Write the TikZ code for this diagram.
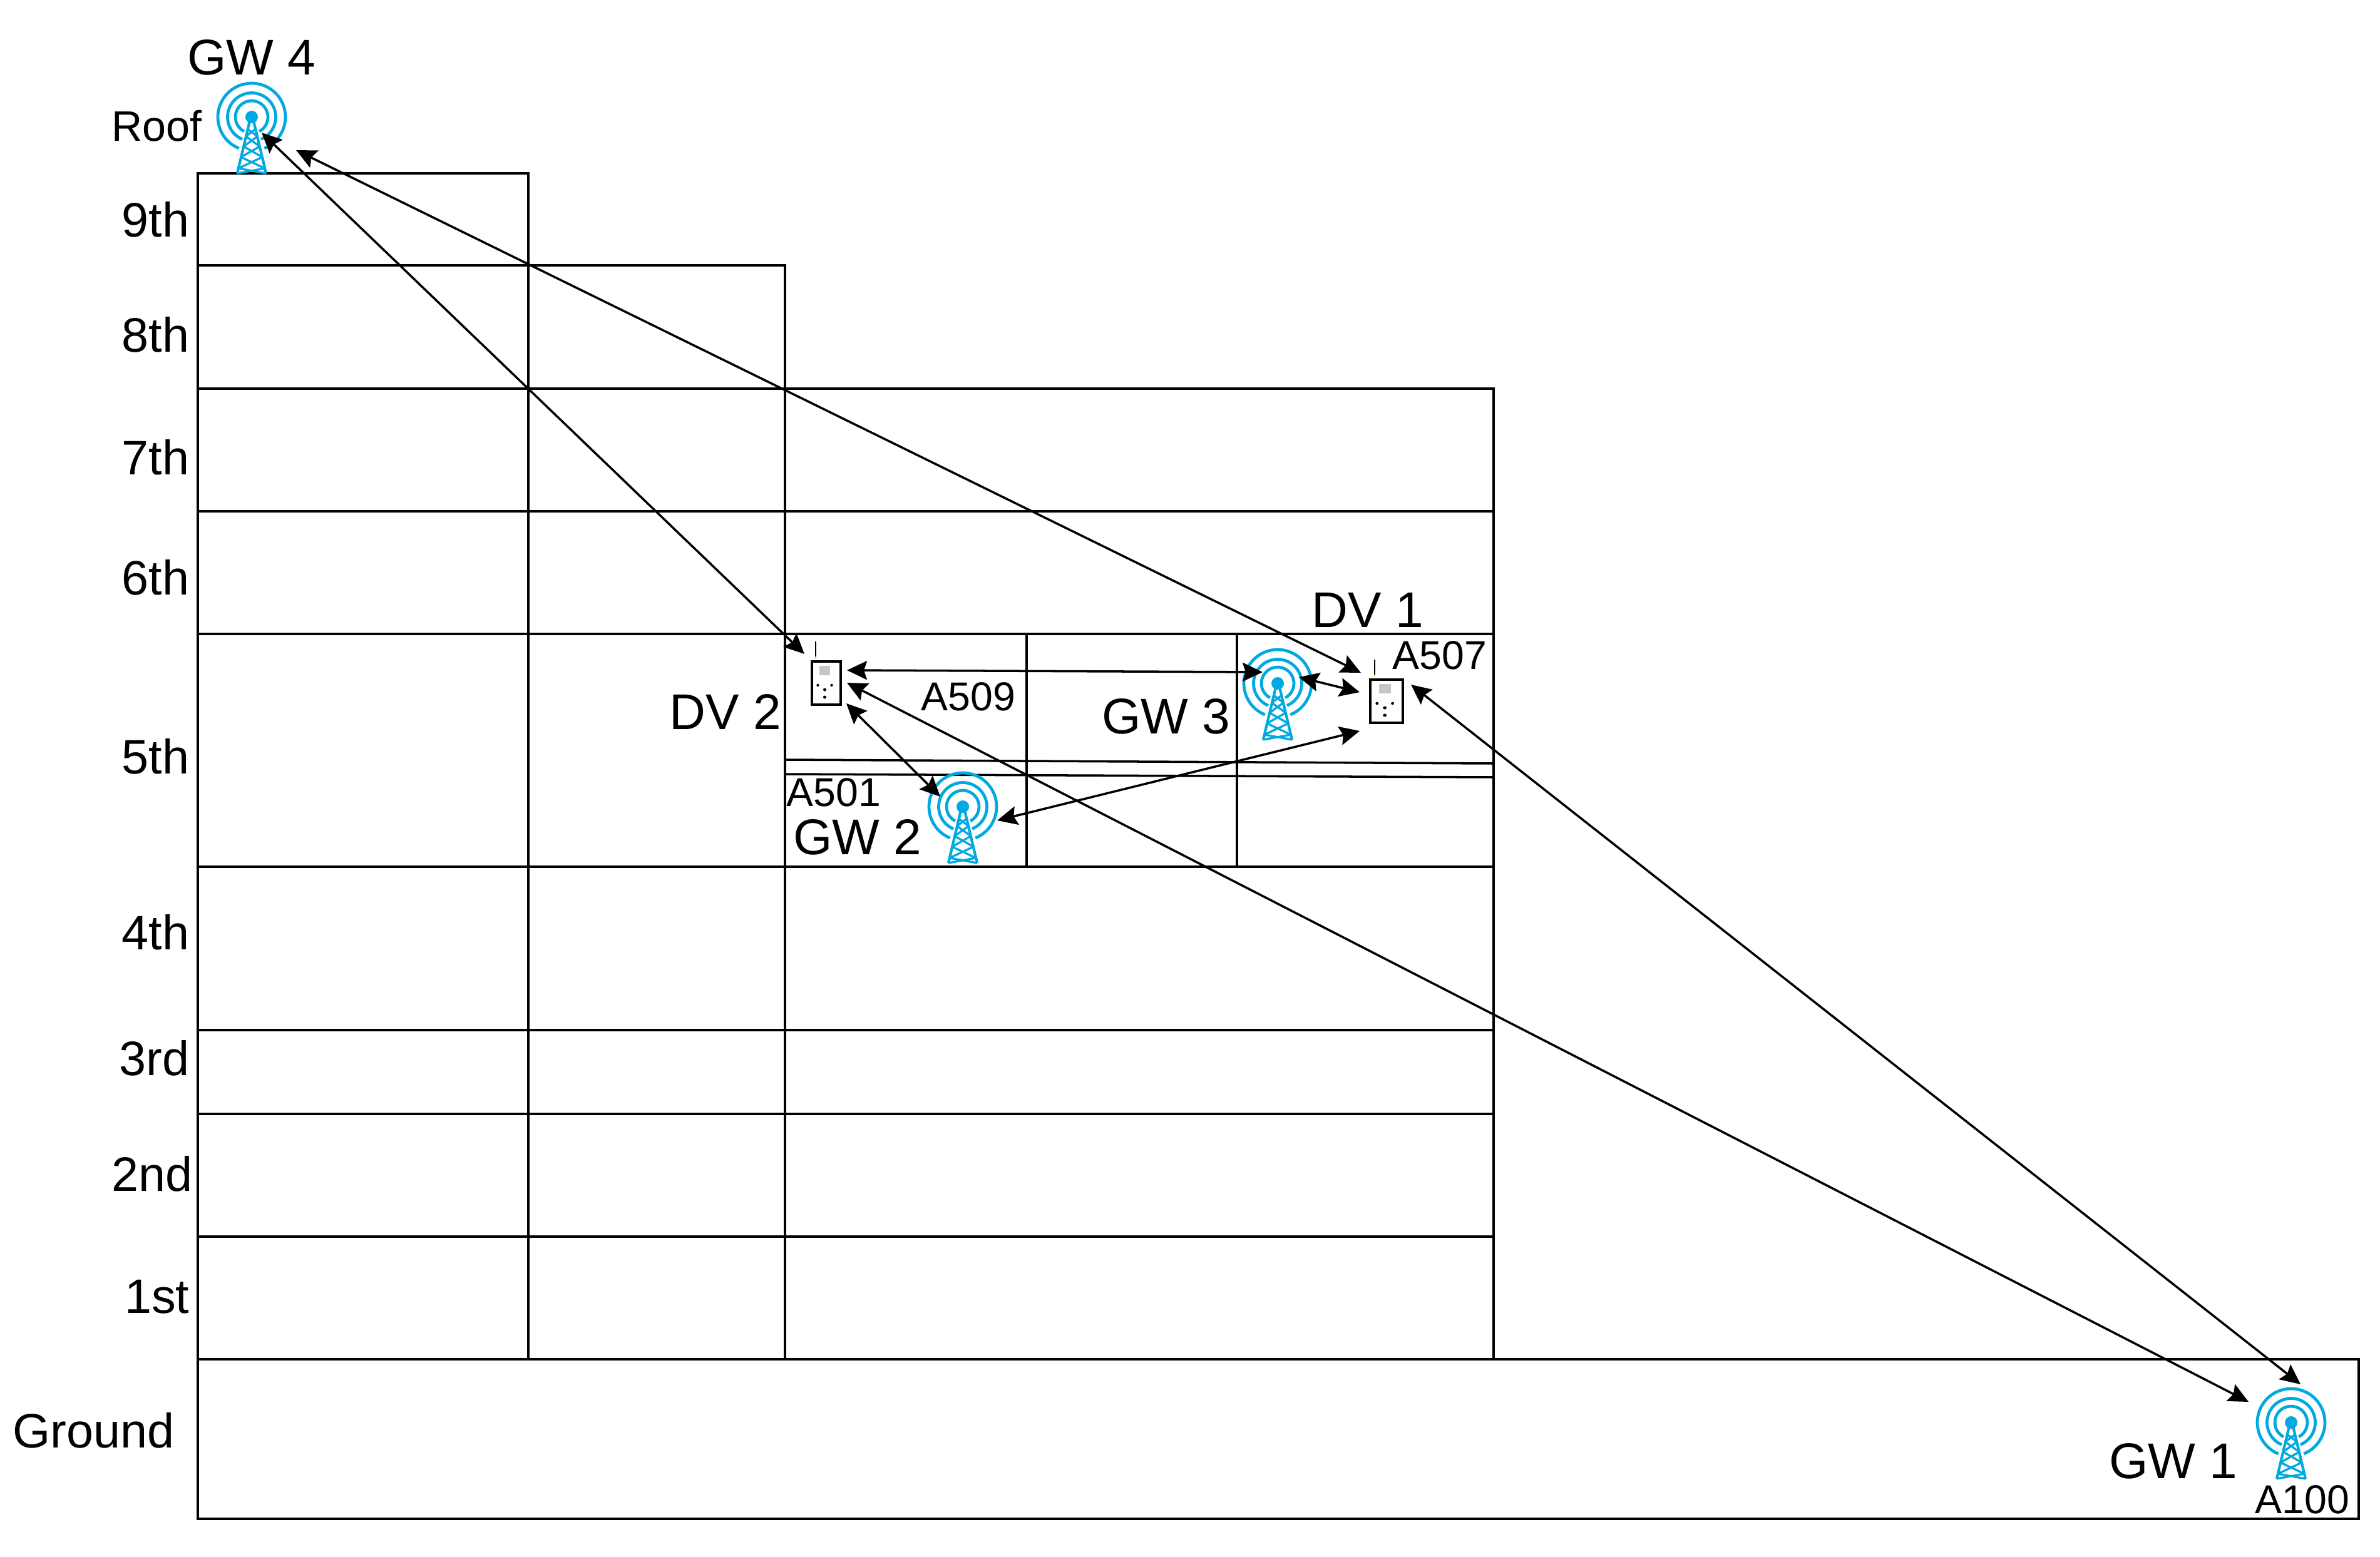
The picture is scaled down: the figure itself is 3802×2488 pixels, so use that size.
\documentclass[tikz,border=0pt]{standalone}
\usepackage{fontspec}
\setmainfont{Liberation Sans}
\usepackage{tikz}
\usetikzlibrary{arrows.meta}
\definecolor{gwblue}{HTML}{00A9E0}
\tikzset{
  floorlabel/.style={anchor=east, inner sep=0pt, font=\fontsize{22}{24}\selectfont},
  biglabel/.style={inner sep=0pt, font=\fontsize{22.8}{25}\selectfont},
  roomlabel/.style={inner sep=0pt, font=\fontsize{18.3}{20}\selectfont},
  wall/.style={line width=1pt},
  link/.style={line width=1pt, <->, >={Stealth[length=0.32cm, width=0.3cm, inset=0.05cm]}},
  pics/gwtower/.style={code={
    \draw[gwblue, line width=1.35pt] (112:54) arc[start angle=112, end angle=428, radius=54];
    \draw[gwblue, line width=1.35pt] (113:38.5) arc[start angle=113, end angle=427, radius=38.5];
    \draw[gwblue, line width=1.35pt] (118:26) arc[start angle=118, end angle=422, radius=26];
    \fill[gwblue] (0,0) circle[radius=10];
    \draw[gwblue, line width=1.2pt] (-3,6) -- (-23,90) (3,6) -- (23,90);
    \draw[gwblue, line width=0.95pt] (-6.5,19) -- (9.3,31) (6.5,19) -- (-9.3,31)
      (-9.3,31) -- (13,47) (9.3,31) -- (-13,47)
      (-13,47) -- (17,64) (13,47) -- (-17,64)
      (-17,64) -- (21,82) (17,64) -- (-21,82)
      (-21,82) -- (23,90) (21,82) -- (-23,90);
  }},
  pics/dvradio/.style={code={
    \draw[line width=0.9pt] (0,0) rectangle (46,69);
    \fill[gray!45] (12,7) rectangle (29,22);
    \draw[line width=0.7pt] (6,-32) -- (6,-8);
    \draw[yellow!85!black, line width=0.7pt] (6,-8) -- (6,-5);
    \fill (9.5,38) circle[radius=2.2];
    \fill (31.5,38) circle[radius=2.2];
    \fill (20.5,45) circle[radius=2.5];
    \fill (20.5,57) circle[radius=2.5];
  }},
}
\begin{document}
\begin{tikzpicture}[x=0.01cm, y=-0.01cm]
  \useasboundingbox (0,0) rectangle (3802,2488);
  % building
  \draw[wall] (316,277) rectangle (844,424);
  \draw[wall] (316,424) rectangle (1254,621);
  \draw[wall] (316,621) rectangle (2386,2172);
  \draw[wall] (316,2172) rectangle (3768,2427);
  \draw[wall] (844,424) -- (844,2172);
  \draw[wall] (1254,621) -- (1254,2172);
  \draw[wall] (316,817) -- (2386,817);
  \draw[wall] (316,1013) -- (2386,1013);
  \draw[wall] (316,1385) -- (2386,1385);
  \draw[wall] (316,1646) -- (2386,1646);
  \draw[wall] (316,1780) -- (2386,1780);
  \draw[wall] (316,1976) -- (2386,1976);
  % fifth floor rooms
  \draw[wall] (1640,1013) -- (1640,1385);
  \draw[wall] (1976,1013) -- (1976,1385);
  \draw[wall] (1254,1214) -- (2386,1220);
  \draw[wall] (1254,1237) -- (2386,1242);
  % floors
  \node[floorlabel] (floor9) at (303,351) {9th};
  \node[floorlabel] (floor8) at (303,535) {8th};
  \node[floorlabel] (floor7) at (303,731) {7th};
  \node[floorlabel] (floor6) at (303,923) {6th};
  \node[floorlabel] (floor5) at (303,1209) {5th};
  \node[floorlabel] (floor4) at (303,1490) {4th};
  \node[floorlabel] (floor3) at (303,1691) {3rd};
  \node[floorlabel] (floor2) at (308,1876) {2nd};
  \node[floorlabel] (floor1) at (303,2072) {1st};
  \node[floorlabel] (floor0) at (279,2286) {Ground};
  \node[roomlabel, anchor=east, font=\fontsize{19.4}{21}\selectfont] (roof) at (323,201) {Roof};
  % gateways and devices
  \pic (gw4) at (402,187) {gwtower};
  \pic (gw3) at (2041,1092) {gwtower};
  \pic (gw2) at (1538,1289) {gwtower};
  \pic (gw1) at (3660,2273) {gwtower};
  \pic (dv2) at (1297,1057) {dvradio};
  \pic[xscale=1.13] (dv1) at (2189,1086) {dvradio};
  \node[biglabel] (gw4name) at (402,92) {GW 4};
  \node[biglabel] (gw3name) at (1863,1145) {GW 3};
  \node[biglabel] (gw2name) at (1370,1338) {GW 2};
  \node[biglabel] (gw1name) at (3472,2335) {GW 1};
  \node[biglabel] (dv1name) at (2185,975) {DV 1};
  \node[biglabel] (dv2name) at (1159,1137) {DV 2};
  \node[roomlabel] (a507) at (2300,1047) {A507};
  \node[roomlabel] (a509) at (1547,1113) {A509};
  \node[roomlabel] (a501) at (1332,1266) {A501};
  \node[roomlabel] (a100) at (3678,2396) {A100};
  % link ends
  \coordinate (gw4a) at (418,212);
  \coordinate (gw4b) at (473,240);
  \coordinate (gw3a) at (2017,1074);
  \coordinate (gw3b) at (2075,1082);
  \coordinate (gw2a) at (1502,1273);
  \coordinate (gw2b) at (1593,1311);
  \coordinate (gw1a) at (3592,2240);
  \coordinate (gw1b) at (3675,2212);
  \coordinate (dv2a) at (1285,1045);
  \coordinate (dv2b) at (1353,1071);
  \coordinate (dv2c) at (1353,1091);
  \coordinate (dv2d) at (1352,1124);
  \coordinate (dv1a) at (2174,1075);
  \coordinate (dv1b) at (2172,1106);
  \coordinate (dv1c) at (2172,1168);
  \coordinate (dv1d) at (2254,1094);
  % links
  \draw[link] (gw4a) -- (dv2a);
  \draw[link] (gw4b) -- (dv1a);
  \draw[link] (dv2b) -- (gw3a);
  \draw[link] (gw3b) -- (dv1b);
  \draw[link] (dv2d) -- (gw2a);
  \draw[link] (dv1c) -- (gw2b);
  \draw[link] (dv2c) -- (gw1a);
  \draw[link] (dv1d) -- (gw1b);
\end{tikzpicture}
\end{document}
